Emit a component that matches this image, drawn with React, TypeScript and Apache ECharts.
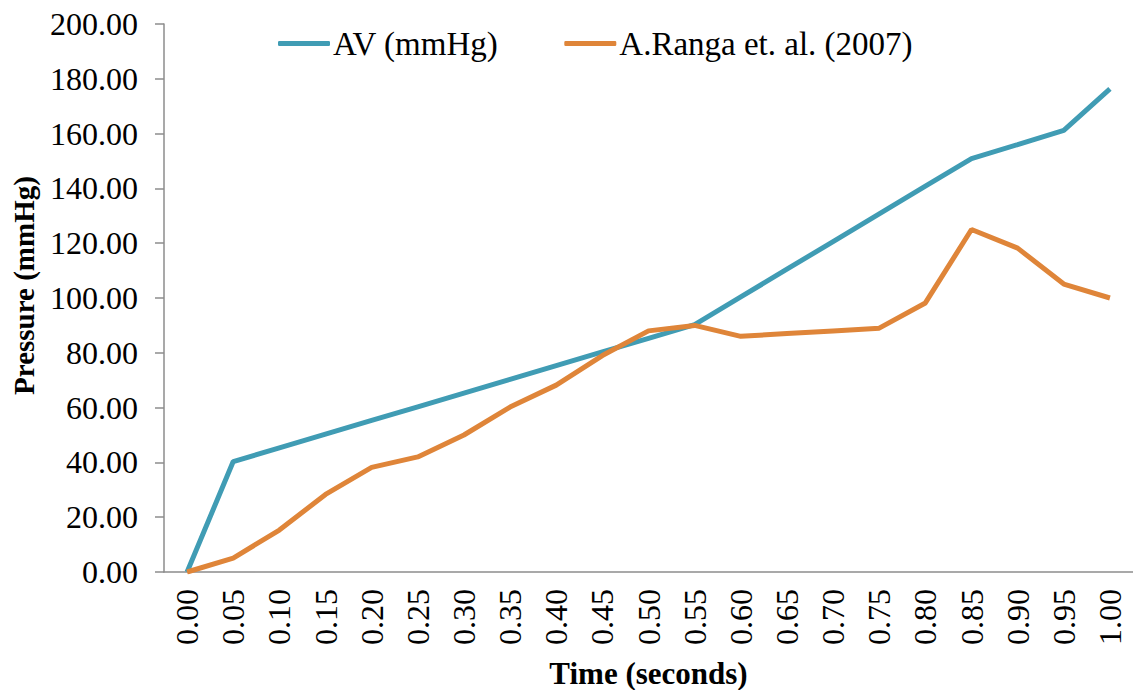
import React, { useEffect, useRef } from "react";
import * as echarts from "echarts";

const categories = ["0.00","0.05","0.10","0.15","0.20","0.25","0.30","0.35","0.40","0.45","0.50","0.55","0.60","0.65","0.70","0.75","0.80","0.85","0.90","0.95","1.00"];
const avValues = [0, 40.3, 45.3, 50.3, 55.3, 60.3, 65.3, 70.3, 75.3, 80.3, 85.3, 90.3, 100.4, 110.5, 120.6, 130.7, 140.8, 150.9, 156.0, 161.2, 176.3];
const rangaValues = [0, 5.1, 15.3, 28.3, 38.2, 42.0, 50.0, 60.2, 68.2, 79.0, 88.0, 90.0, 86.0, 87.0, 88.0, 89.0, 98.2, 125.0, 118.2, 105.1, 100.0];
const seriesNames = ["AV (mmHg)", "A.Ranga et. al. (2007)"];
const colors = ["#409CB4", "#DF8539"];

export default function App() {
  const ref = useRef<HTMLDivElement>(null);
  useEffect(() => {
    if (!ref.current) return;
    const chart = echarts.init(ref.current, undefined, { renderer: "svg" });
    const font = "Liberation Serif";
    chart.setOption({
      animation: false,
      textStyle: { fontFamily: font },
      legend: {
        top: 22,
        left: 273,
        itemWidth: 52,
        itemHeight: 5,
        itemGap: 66,
        icon: "roundRect",
        textStyle: { fontFamily: font, fontSize: 33, color: "#000", padding: [0, 0, 0, -2] },
        data: seriesNames,
      },
      grid: { left: 164, right: 0, top: 24, bottom: 118, outerBoundsMode: "none", containLabel: false },
      xAxis: {
        type: "category",
        data: categories,
        boundaryGap: true,
        axisLine: { lineStyle: { color: "#8C8C8C", width: 1.5 } },
        axisTick: { show: false },
        axisLabel: { rotate: 90, margin: 17, fontFamily: font, fontSize: 32, color: "#000", interval: 0 },
        name: "Time (seconds)",
        nameLocation: "middle",
        nameGap: 86,
        nameTextStyle: { fontFamily: font, fontSize: 31, lineHeight: 31, fontWeight: "bold", color: "#000" },
      },
      yAxis: {
        type: "value",
        min: 0,
        max: 200,
        interval: 20,
        splitLine: { show: false },
        axisLine: { show: true, lineStyle: { color: "#8C8C8C", width: 1.5 } },
        axisTick: { show: true, length: 9, lineStyle: { color: "#8C8C8C", width: 1.5 } },
        axisLabel: { margin: 26, fontFamily: font, fontSize: 32, color: "#000", formatter: (v: number) => v.toFixed(2) },
        name: "Pressure (mmHg)",
        nameLocation: "middle",
        nameGap: 126,
        nameTextStyle: { fontFamily: font, fontSize: 29, fontWeight: "bold", color: "#000", padding: [0, 0, 0, 25] },
      },
      series: [
        { name: seriesNames[0], type: "line", data: avValues, symbol: "none", color: colors[0], lineStyle: { width: 5, color: colors[0] } },
        { name: seriesNames[1], type: "line", data: rangaValues, symbol: "none", color: colors[1], lineStyle: { width: 5, color: colors[1] } },
      ],
    });
    return () => chart.dispose();
  }, []);
  return <div ref={ref} style={{ position: "absolute", left: 0, top: 0, width: 1133, height: 690 }} />;
}
